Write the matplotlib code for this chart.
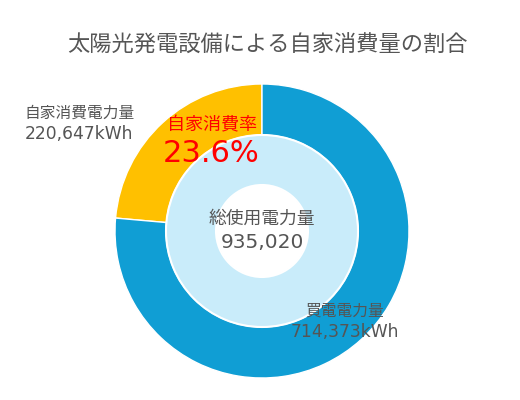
import matplotlib.pyplot as plt

plt.rcParams['font.family'] = ['Noto Sans CJK JP', 'DejaVu Sans']

# data
title = '太陽光発電設備による自家消費量の割合'
labels = ['自家消費電力量', '買電電力量']
values_kwh = [220647, 714373]
total_label = '総使用電力量'
total_kwh = 935020
rate_label = '自家消費率'
colors = ['#FFC000', '#109ED4']
inner_color = '#C9ECFA'
text_color = '#555555'

rate = values_kwh[0] / total_kwh * 100
num_font = ['DejaVu Sans', 'Noto Sans CJK JP']

W, H = 520, 400
fig = plt.figure(figsize=(W / 100, H / 100), dpi=100)
ax = fig.add_axes([0, 0, 1, 1])


def py(y):
    # pixel row (from top) -> data y
    return H - y


cx, cy = 262, py(231)

# outer ring: self-consumption vs purchased
ax.pie(values_kwh, colors=colors, startangle=90, counterclock=True,
       radius=147, center=(cx, cy),
       wedgeprops=dict(width=51, edgecolor='white', linewidth=1))
# inner ring: total usage
ax.pie([total_kwh], colors=[inner_color], startangle=90,
       radius=96, center=(cx, cy),
       wedgeprops=dict(width=50, edgecolor='white', linewidth=1.5))

ax.set_xlim(0, W)
ax.set_ylim(0, H)
ax.set_aspect('equal')
ax.axis('off')

ax.text(267, py(45), title, ha='center', va='center', fontsize=16, color=text_color)

ax.text(80, py(113), labels[0], ha='center', va='center', fontsize=11.3, color=text_color)
ax.text(79, py(134), f'{values_kwh[0]:,}kWh', ha='center', va='center', fontsize=12.3,
        color=text_color, family=num_font)

ax.text(212, py(125), rate_label, ha='center', va='center', fontsize=13, color='#FF0000')
ax.text(211, py(154), f'{rate:.1f}%', ha='center', va='center', fontsize=22,
        color='#FF0000', family=num_font)

ax.text(cx, py(219), total_label, ha='center', va='center', fontsize=12.8, color=text_color)
ax.text(cx, py(243), f'{total_kwh:,}', ha='center', va='center', fontsize=14.5,
        color=text_color, family=num_font)

ax.text(345, py(311), labels[1], ha='center', va='center', fontsize=11.3, color=text_color)
ax.text(345, py(332), f'{values_kwh[1]:,}kWh', ha='center', va='center', fontsize=12.3,
        color=text_color, family=num_font)

fig.savefig('out.png', dpi=100, facecolor='white')
